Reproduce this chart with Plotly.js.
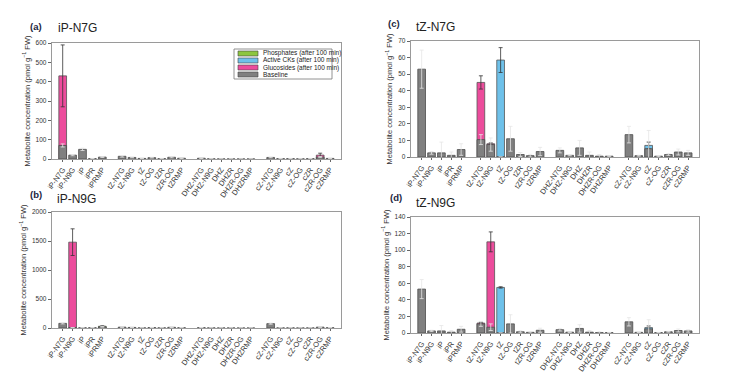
<!DOCTYPE html>
<html><head><meta charset="utf-8">
<script src="https://cdn.plot.ly/plotly-3.0.1.min.js"></script>
<style>html,body{margin:0;padding:0;background:#fff}#chart{width:729px;height:376px}</style>
</head><body><div id="chart"></div>
<script>
const categories = ["iP-N7G","iP-N9G","iP","iPR","iPRMP",
  "tZ-N7G","tZ-N9G","tZ","tZ-OG","tZR","tZR-OG","tZRMP",
  "DHZ-N7G","DHZ-N9G","DHZ","DHZR","DHZR-OG","DHZRMP",
  "cZ-N7G","cZ-N9G","cZ","cZ-OG","cZR","cZR-OG","cZRMP"];
const groupSizes = [5,7,6,7];
const legendLabels = ["Phosphates (after 100 min)","Active CKs (after 100 min)","Glucosides (after 100 min)","Baseline"];

// Panel (a) iP-N7G
const baseA    = [70,20,50,2,10, 14,8,3,7,2,9,4, 4,1,0.5,0.5,0.3,0.3, 8,2,2,1,2,10,3];
const baseAErr = [8,3,6,1,2, 4,2,1,2,1,3,1, 1,0.5,0.3,0.3,0.2,0.2, 2,1,1,0.5,1,3,1];
const glucA    = [430,null,null,null,null, null,null,null,null,null,null,null, null,null,null,null,null,null, null,null,null,null,null,20,null];
const glucAErr = [160,0,0,0,0, 0,0,0,0,0,0,0, 0,0,0,0,0,0, 0,0,0,0,0,10,0];

// Panel (b) iP-N9G
const baseB    = [80,5,4,5,20, 15,10,2,8,3,12,5, 6,2,1,1,0.5,0.5, 75,2,3,1,2,15,5];
const baseBErr = [10,2,1,2,5, 4,3,1,2,1,3,1, 2,1,0.5,0.5,0.2,0.2, 10,1,1,0.5,1,4,1];
const glucB    = [null,1480,null,null,null, null,null,null,null,null,null,null, null,null,null,null,null,null, null,null,null,null,null,null,null];
const glucBErr = [0,230,0,0,0, 0,0,0,0,0,0,0, 0,0,0,0,0,0, 0,0,0,0,0,0,0];
const phosB    = [null,null,null,null,30, null,null,null,null,null,null,null, null,null,null,null,null,null, null,null,null,null,null,null,null];
const phosBErr = [0,0,0,0,8, 0,0,0,0,0,0,0, 0,0,0,0,0,0, 0,0,0,0,0,0,0];

// Panel (c) tZ-N7G
const baseC    = [53,2.5,2.5,1,4.5, 10.5,7.5,0,11,1.5,0.8,3.3, 4,1,5.5,1,0.5,0.5, 13.5,0.8,5,0.5,1.5,3,2.5];
const baseCErr = [11.5,0.8,6.5,2,3.5, 3,4,0,7.5,1.2,0.8,2.5, 1.5,0.3,4.5,2,1,0.3, 5,0.3,11,0.3,0.5,1.8,1.5];
const glucC    = [null,null,null,null,null, 45,8,null,null,null,null,null, null,null,null,null,null,null, null,null,null,null,null,null,null];
const glucCErr = [0,0,0,0,0, 4,0.5,0,0,0,0,0, 0,0,0,0,0,0, 0,0,0,0,0,0,0];
const actC     = [null,null,null,null,null, null,null,58.5,null,null,null,null, null,null,null,null,null,null, null,null,7,null,null,null,null];
const actCErr  = [0,0,0,0,0, 0,0,7.5,0,0,0,0, 0,0,0,0,0,0, 0,0,2,0,0,0,0];

// Panel (d) tZ-N9G
const baseD    = [53,2.5,2.5,1,4.5, 11,7,0,11,1.5,0.8,3.3, 4,1,5.5,1,0.5,0.5, 13.5,0.8,5,0.5,1.5,3,2.5];
const baseDErr = [11.5,0.8,6.5,2,3.5, 3,4,0,11,1.2,0.8,2.5, 1.5,0.3,4.5,2,1,0.3, 5,0.3,11,0.3,0.5,1.8,1.5];
const glucD    = [null,null,null,null,null, 12,110,null,null,null,null,null, null,null,null,null,null,null, null,null,null,null,null,null,null];
const glucDErr = [0,0,0,0,0, 1,12,0,0,0,0,0, 0,0,0,0,0,0, 0,0,0,0,0,0,0];
const actD     = [null,null,null,null,null, null,null,55,null,null,null,null, null,null,null,null,null,null, null,null,6.5,null,null,null,null];
const actDErr  = [0,0,0,0,0, 0,0,0.8,0,0,0,0, 0,0,0,0,0,0, 0,0,2,0,0,0,0];

const yTicksA = [0,100,200,300,400,500,600];
const yTicksB = [0,500,1000,1500,2000];
const yTicksC = [0,10,20,30,40,50,60,70];
const yTicksD = [0,20,40,60,80,100,120,140];

// x positions with a gap slot between groups
const xs = [];
(function(){let p=0; groupSizes.forEach(g=>{for(let i=0;i<g;i++) xs.push(p++); p++;});})();

const KINDS = ['phos','act','gluc','base'];
const COL = {phos:'#8dc63f', act:'#6ec1ea', gluc:'#ec4c9c', base:'#808080'};

function bar(kind, y, err, ax){
  const isBase = kind==='base';
  return {type:'bar', x:xs, y:y, width:0.78, name:legendLabels[KINDS.indexOf(kind)], showlegend:false,
    xaxis:'x'+ax, yaxis:'y'+ax,
    marker:{color:COL[kind], line:{color: isBase?'#4d4d4d':'#555', width:0.8}},
    error_y:{type:'data', array:err, visible:true, color:isBase?'#e6e6e6':'#333', thickness:0.8, width:2}};
}

const data = [
  bar('gluc', glucA, glucAErr, ''), bar('base', baseA, baseAErr, ''),
  bar('phos', phosB, phosBErr, '2'), bar('gluc', glucB, glucBErr, '2'), bar('base', baseB, baseBErr, '2'),
  bar('act', actC, actCErr, '3'), bar('gluc', glucC, glucCErr, '3'), bar('base', baseC, baseCErr, '3'),
  bar('act', actD, actDErr, '4'), bar('gluc', glucD, glucDErr, '4'), bar('base', baseD, baseDErr, '4')
];

const FONT = 'Liberation Sans, Arial, sans-serif';
function xax(dom, anchor){
  return {domain:dom, anchor:anchor, range:[-1.08,28.1], tickmode:'array', tickvals:xs, ticktext:categories,
    tickangle:-55, tickfont:{size:7.5, color:'#333', family:FONT}, showline:true, mirror:true,
    linecolor:'#9a9a9a', linewidth:1.3, ticks:'outside', ticklen:2, tickcolor:'#666', showgrid:false, zeroline:false, fixedrange:true};
}
function yax(dom, anchor, ticks){
  return {domain:dom, anchor:anchor, range:[0, ticks[ticks.length-1]], tickmode:'array', tickvals:ticks,
    tickfont:{size:6.5, color:'#333', family:FONT}, showline:true, mirror:true, linecolor:'#9a9a9a', linewidth:1.3,
    ticks:'outside', ticklen:3, tickcolor:'#666', showgrid:false, zeroline:false,
    title:{text:'Metabolite concentration (pmol g<sup>−1</sup> FW)', font:{size:7.5, color:'#333', family:FONT}, standoff:4}};
}
const W=729, H=376;
const xL=[52/W, 341/W], xR=[411/W, 699/W];

// custom compact legend (panel a)
const shapes = [{type:'rect', xref:'paper', yref:'paper', x0:234/W, x1:332/W, y0:1-79/H, y1:1-49/H,
  line:{color:'#777', width:0.8}, fillcolor:'#fff', layer:'above'}];
const legAnn = [];
const legY = [53.5, 60.5, 67.5, 74.5];
KINDS.forEach((k,i)=>{
  shapes.push({type:'rect', xref:'paper', yref:'paper', x0:238/W, x1:258/W, y0:1-(legY[i]+2.5)/H, y1:1-(legY[i]-2.5)/H,
    line:{color:'#444', width:0.6}, fillcolor:COL[k], layer:'above'});
  legAnn.push({text:legendLabels[i], x:261/W, y:1-legY[i]/H, xref:'paper', yref:'paper', xanchor:'left', yanchor:'middle',
    showarrow:false, font:{size:6.5, color:'#222', family:FONT}});
});

function ann(text, x, y, size, color, anchor){
  return {text:text, x:x/W, y:1-y/H, xref:'paper', yref:'paper', xanchor:anchor, yanchor:'middle', showarrow:false,
    font:{size:size, color:color, family:FONT}};
}
const layout = {
  width:W, height:H, margin:{l:0,r:0,t:0,b:0}, paper_bgcolor:'#fff', plot_bgcolor:'#fff',
  barmode:'overlay', showlegend:false, font:{family:FONT},
  xaxis: xax(xL,'y'), yaxis: yax([1-159/H, 1-43/H],'x', yTicksA),
  xaxis2: xax(xL,'y2'), yaxis2: yax([1-328/H, 1-212/H],'x2', yTicksB),
  xaxis3: xax(xR,'y3'), yaxis3: yax([1-157/H, 1-41/H],'x3', yTicksC),
  xaxis4: xax(xR,'y4'), yaxis4: yax([1-333/H, 1-217/H],'x4', yTicksD),
  shapes: shapes,
  annotations: [
    ann('<b>(a)</b>', 36, 26, 9.5, '#1c2540', 'center'),
    ann('iP-N7G', 56, 28, 12, '#222', 'left'),
    ann('<b>(b)</b>', 36, 194, 9.5, '#1c2540', 'center'),
    ann('iP-N9G', 55, 199, 12, '#222', 'left'),
    ann('<b>(c)</b>', 394, 23, 9.5, '#1c2540', 'center'),
    ann('tZ-N7G', 414, 27, 12, '#222', 'left'),
    ann('<b>(d)</b>', 396, 197, 9.5, '#1c2540', 'center'),
    ann('tZ-N9G', 414, 203, 12, '#222', 'left')
  ].concat(legAnn)
};
Plotly.newPlot('chart', data, layout, {displayModeBar:false, staticPlot:true});
</script></body></html>
